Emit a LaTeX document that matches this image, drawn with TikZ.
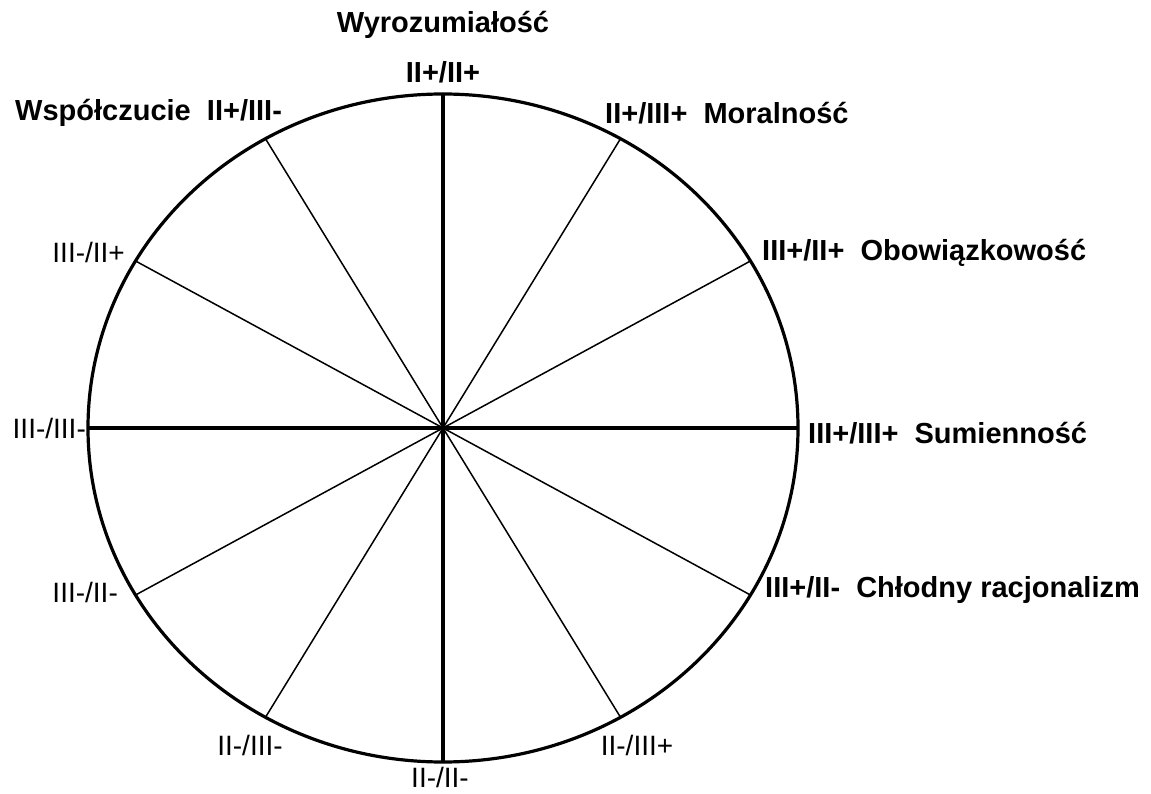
\documentclass[tikz,border=0pt]{standalone}
\usepackage{fontspec}
\setmainfont{Liberation Sans}
\usepackage{tikz}
\usetikzlibrary{positioning,calc}

\begin{document}
\begin{tikzpicture}[x=1pt, y=-1pt,
        rim/.style={line width=3.2pt},
        axis/.style={line width=3.4pt},
        ray/.style={line width=1.5pt},
        lab/.style={inner sep=0pt, font=\fontsize{29}{34}\selectfont\bfseries},
        sub/.style={inner sep=0pt, font=\fontsize{28}{32}\selectfont}
    ]
        \useasboundingbox (0,0) rectangle (1151,794);
        \coordinate (O) at (443,428);
        \draw[rim] (O) ellipse [x radius=355, y radius=334];
        % rim points, every 30 degrees
        \foreach \a in {0,30,...,330}
            \coordinate (R\a) at ($(O)+({355*cos(\a)},{-334*sin(\a)})$);
        \draw[axis] (R0) -- (R180);
        \draw[axis] (R90) -- (R270);
        \foreach \a in {30,60,120,150,210,240,300,330}
            \draw[ray] (O) -- (R\a);

        % labels
        \node (wyr) [lab] at (443,25) {Wyrozumiałość};
        \node (top) [lab] at (443,72) {II+/II+};
        \node (wsp) [lab, anchor=west] at (15,113) {Współczucie~~II+/III-};
        \node (mor) [lab, anchor=west] at (605,113) {II+/III+~~Moralność};
        \node (obo) [lab, anchor=west] at (762,253) {III+/II+~~Obowiązkowość};
        \node (sum) [lab, anchor=west] at (808,433) {III+/III+~~Sumienność};
        \node (chl) [lab, anchor=west] at (765,590) {III+/II-~~Chłodny racjonalizm};
        \node (l1) [sub, anchor=east] at (125,252) {III-/II+};
        \node (l2) [sub, anchor=east] at (86,428) {III-/III-};
        \node (l3) [sub, anchor=east] at (118,592) {III-/II-};
        \node (b1) [sub] at (250,745) {II-/III-};
        \node (b2) [sub] at (440,777) {II-/II-};
        \node (b3) [sub] at (637,745) {II-/III+};
    \end{tikzpicture}
\end{document}
